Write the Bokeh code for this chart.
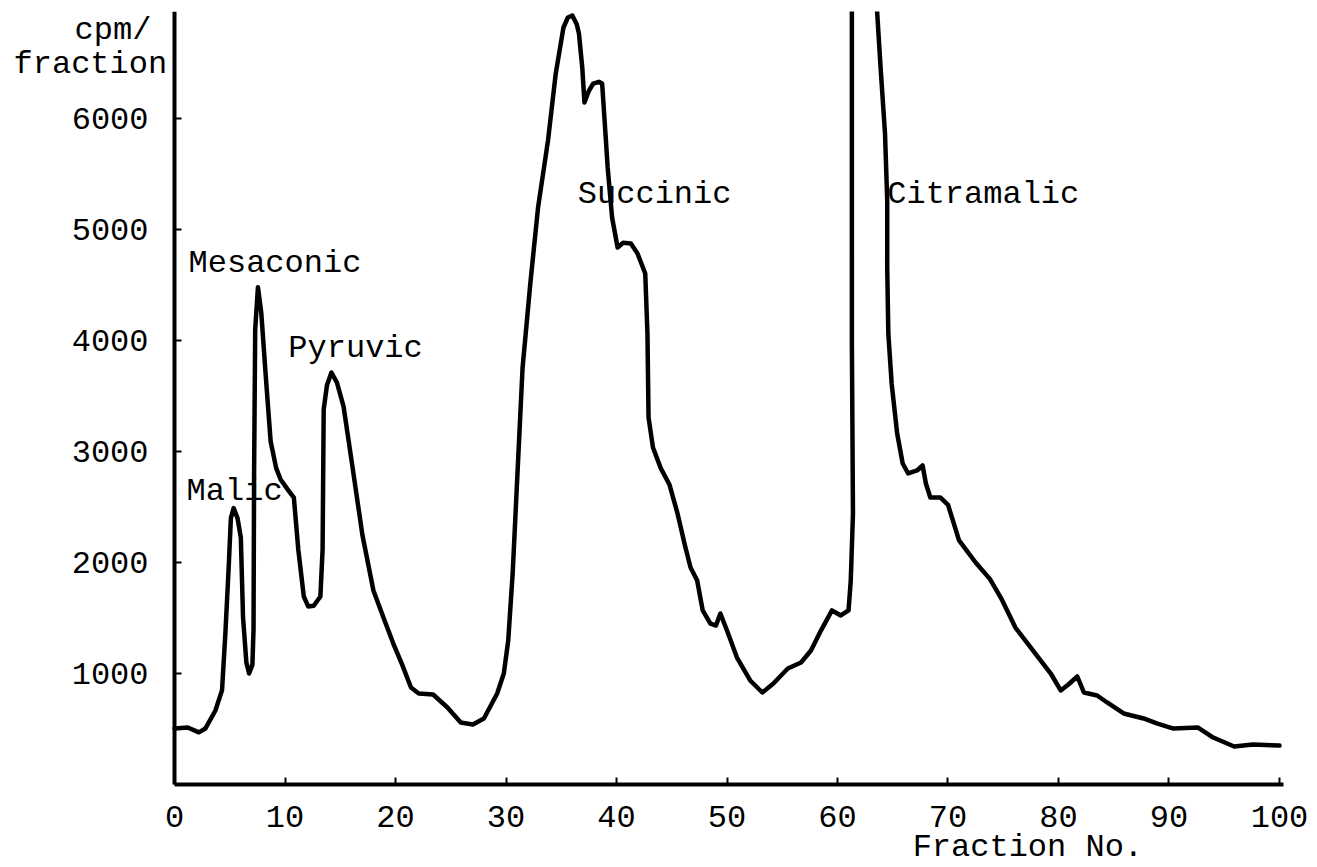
from bokeh.plotting import figure
from bokeh.models import Range1d, FixedTicker, Label
from bokeh.embed import file_html
from bokeh.resources import INLINE

# ---- data ----
fraction = [0.0, 1.2, 2.2, 2.8, 3.7, 4.3, 4.6, 4.9, 5.1, 5.35, 5.7, 6.0, 6.2, 6.5, 6.75,
            7.05, 7.15, 7.2, 7.3, 7.55, 7.85, 8.3, 8.7, 9.2, 9.6, 10.3, 10.8, 11.2, 11.7,
            12.1, 12.6, 13.2, 13.4, 13.5, 13.8, 14.2, 14.7, 15.3, 16.1, 17.0, 18.0, 19.0,
            19.8, 20.6, 21.4, 22.1, 23.4, 24.7, 25.9, 27.0, 28.0, 29.2, 29.8, 30.2, 30.6,
            31.5, 32.2, 32.9, 33.8, 34.5, 35.2, 35.6, 36.0, 36.4, 36.6, 36.9, 37.1, 37.5,
            37.9, 38.4, 38.7, 39.0, 39.2, 39.6, 40.1, 40.6, 41.3, 41.9, 42.6, 42.8, 42.9,
            43.3, 44.0, 44.8, 45.5, 46.2, 46.7, 47.3, 47.8, 48.5, 49.0, 49.4, 50.0, 50.9,
            52.1, 53.2, 54.2, 55.5, 56.7, 57.6, 58.5, 59.5, 60.3, 61.0, 61.2, 61.4, 61.3,
            61.3, 62.4, 63.5, 63.9, 64.3, 64.5, 64.5, 64.6, 64.9, 65.4, 65.9, 66.4, 67.2,
            67.7, 68.0, 68.4, 69.3, 70.0, 71.0, 72.5, 73.8, 74.8, 76.1, 77.7, 79.3, 80.2,
            80.9, 81.7, 82.3, 83.5, 84.4, 85.9, 87.7, 88.9, 90.4, 92.6, 94.0, 95.9, 97.6,
            100.0]
cpm = [505, 514, 470, 505, 667, 850, 1360, 1955, 2400, 2490, 2400, 2225, 1505, 1100, 1000,
       1080, 1400, 2800, 4100, 4480, 4250, 3620, 3090, 2850, 2748, 2650, 2585, 2117, 1694,
       1604, 1610, 1694, 2117, 3378, 3600, 3712, 3620, 3405, 2865, 2250, 1748, 1480,
       1270, 1080, 874, 820, 811, 694, 559, 541, 595, 820, 1000, 1297, 1900,
       3757, 4514, 5198, 5802, 6405, 6820, 6910, 6928, 6850, 6766, 6460, 6144, 6250,
       6315, 6330, 6315, 5865, 5559, 5108, 4838, 4880, 4874, 4784, 4604, 4063, 3306,
       3036, 2850, 2700, 2450, 2150, 1955, 1838, 1568, 1450, 1432, 1541, 1387, 1144,
       937, 829, 910, 1045, 1099, 1207, 1387, 1568, 1523, 1568, 1838, 2441, 4000,
       7100, 7600, 7100, 6459, 5865, 5261, 4658, 4063, 3613, 3162, 2892, 2802, 2829,
       2874, 2712, 2586, 2586, 2520, 2200, 2000, 1850, 1680, 1414, 1207, 1000, 847,
       901, 973, 829, 802, 739, 640, 595, 550, 504, 514, 423, 342, 360,
       351]

x_ticks = [0, 10, 20, 30, 40, 50, 60, 70, 80, 90, 100]
y_ticks = [1000, 2000, 3000, 4000, 5000, 6000]

peak_names = ["Malic", "Mesaconic", "Pyruvic", "Succinic", "Citramalic"]
y_title = ["cpm/", "fraction"]
x_title = "Fraction No."

FONT = "Liberation Mono"
FS = "32px"

X_AXIS_END = 100.36
Y_AXIS_END = 6964

p = figure(frame_width=1315, frame_height=855,
           x_range=Range1d(-15.75, 103.26), y_range=Range1d(-738.7, Y_AXIS_END),
           output_backend="svg", toolbar_location=None,
           min_border_left=0, min_border_right=0,
           min_border_top=11, min_border_bottom=0)

p.background_fill_color = "white"
p.border_fill_color = "white"
p.outline_line_color = None
p.grid.visible = False

p.line(fraction, cpm, line_color="black", line_width=4.5, line_join="round", line_cap="round")

for ax in (p.xaxis[0], p.yaxis[0]):
    ax.fixed_location = 0
    ax.axis_line_width = 4
    ax.axis_line_color = "black"
    ax.major_tick_in = 7
    ax.major_tick_out = 0
    ax.major_tick_line_width = 2
    ax.minor_tick_line_color = None
    ax.major_label_text_font = FONT
    ax.major_label_text_font_size = FS
    ax.major_label_text_color = "black"

p.xaxis[0].bounds = (0, X_AXIS_END)
p.yaxis[0].bounds = (0, Y_AXIS_END)
p.xaxis[0].ticker = FixedTicker(ticks=x_ticks)
p.yaxis[0].ticker = FixedTicker(ticks=y_ticks)
p.xaxis[0].major_label_standoff = 21
p.yaxis[0].major_label_standoff = 26

# peak labels (x, y positions in data units)
label_pos = [(1.09, 2640), (1.27, 4694), (10.3, 3928), (36.5, 5315), (64.5, 5315)]
for name, (lx, ly) in zip(peak_names, label_pos):
    p.add_layout(Label(x=lx, y=ly, text=name, text_font=FONT, text_font_size=FS,
                       text_color="black", text_baseline="alphabetic", text_align="left"))

# axis titles
p.add_layout(Label(x=-9.05, y=6793, text=y_title[0], text_font=FONT, text_font_size=FS,
                   text_color="black", text_baseline="alphabetic", text_align="left"))
p.add_layout(Label(x=-14.57, y=6486, text=y_title[1], text_font=FONT, text_font_size=FS,
                   text_color="black", text_baseline="alphabetic", text_align="left"))
p.add_layout(Label(x=66.8, y=-568, text=x_title, text_font=FONT, text_font_size=FS,
                   text_color="black", text_baseline="alphabetic", text_align="left"))

open("out.html", "w").write(file_html(p, INLINE))
